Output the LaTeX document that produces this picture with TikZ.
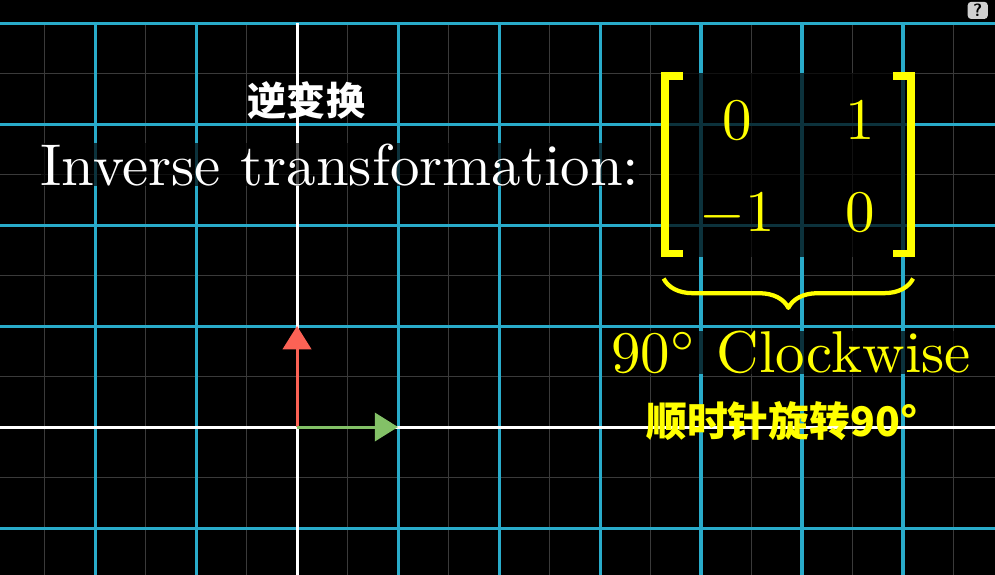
\documentclass[tikz,border=0pt]{standalone}
\usepackage{fontspec}
\newfontfamily\cjk{Noto Sans CJK SC}
\usetikzlibrary{arrows.meta,decorations.pathreplacing}
\definecolor{gridblue}{HTML}{29ABCA}
\definecolor{faintline}{HTML}{3A3A3A}
\definecolor{jhatred}{HTML}{FC6255}
\definecolor{ihatgreen}{HTML}{83C167}
\definecolor{labelyellow}{HTML}{FFFF00}
\definecolor{helpgray}{HTML}{D0D0D0}

\begin{document}
\begin{tikzpicture}[
  line join=round,
  major/.style={draw=gridblue,line width=0.85pt},
  minor/.style={draw=faintline,line width=0.4pt},
  axisline/.style={draw=white,line width=0.85pt},
  basis/.style={line width=0.85pt,-{Triangle[length=2.3mm,width=2.8mm]}},
  bigtext/.style={scale=1.66},
  cjktext/.style={font=\cjk\bfseries\fontsize{11}{13}\selectfont},
  dimbox/.style={fill=black,fill opacity=0.7,text opacity=1},
  bracket/.style={draw=labelyellow,line width=2.1pt,line cap=butt,line join=miter}
]
  % Frame, black all over; the grid stops a little below the top edge.
  \useasboundingbox[fill=black] (-2.941,-1.465) rectangle (6.911,4.228);

  % Faint half-unit lines.
  \begin{scope}
    \clip (-2.941,-1.465) rectangle (6.911,4);
    \foreach \x in {-2.5,-1.5,...,6.5} {
      \draw[minor] (\x,-1.465) -- (\x,4);
    }
    \foreach \y in {-0.5,0.5,...,3.5} {
      \draw[minor] (-2.941,\y) -- (6.911,\y);
    }
  \end{scope}

  % Unit lines and the two axes.
  \foreach \x in {-2,-1,1,2,3,4,5,6} {
    \draw[major] (\x,-1.465) -- (\x,4);
  }
  \foreach \y in {-1,1,2,3,4} {
    \draw[major] (-2.941,\y) -- (6.911,\y);
  }
  \draw[axisline] (-2.941,0) -- (6.911,0);
  \draw[axisline] (0,-1.465) -- (0,4);

  % Basis vectors.
  \coordinate (O) at (0,0);
  \coordinate (ihat) at (1,0);
  \coordinate (jhat) at (0,1);
  \draw[basis,jhatred] (O) -- (jhat);
  \draw[basis,ihatgreen] (O) -- (ihat);

  % Title line.
  \node[cjktext,text=white] (invcjk) at (0.094,3.233) {逆变换};
  \node[bigtext,text=white,dimbox,anchor=base west,inner sep=0pt] (invtitle)
    at (-2.55,2.396) {Inverse transformation:};

  % Matrix with its brackets.
  \path[dimbox] (3.60,1.68) rectangle (6.12,3.51);
  \draw[bracket] (3.822,3.475) -| (3.644,1.718) -- (3.822,1.718);
  \draw[bracket] (5.901,3.475) -| (6.079,1.718) -- (5.901,1.718);
  \node[bigtext,text=labelyellow,anchor=base] (m11) at (4.356,2.842) {$0$};
  \node[bigtext,text=labelyellow,anchor=base] (m12) at (5.574,2.842) {$1$};
  \node[bigtext,text=labelyellow,anchor=base] (m21) at (4.356,1.931) {$-1$};
  \node[bigtext,text=labelyellow,anchor=base] (m22) at (5.574,1.931) {$0$};

  % Brace and its labels.
  \coordinate (bracel) at (3.63,1.47);
  \coordinate (bracer) at (6.10,1.47);
  \draw[labelyellow,line width=1.2pt,decorate,
    decoration={brace,mirror,amplitude=2.9mm}] (bracel) -- (bracer);
  \node[bigtext,text=labelyellow,dimbox,anchor=base west,inner sep=0pt] (cwlabel)
    at (3.10,0.535) {90$^\circ$ Clockwise};
  \node[cjktext,font=\cjk\bfseries\fontsize{11.5}{13}\selectfont,text=labelyellow] (cwcjk)
    at (4.80,0.06) {顺时针旋转90°};

  % Help badge, top right.
  \node[fill=helpgray,rounded corners=1pt,inner sep=0pt,minimum width=2mm,
    minimum height=1.7mm,font=\sffamily\bfseries\tiny,text=black] (helpicon)
    at (6.74,4.125) {?};
\end{tikzpicture}
\end{document}
